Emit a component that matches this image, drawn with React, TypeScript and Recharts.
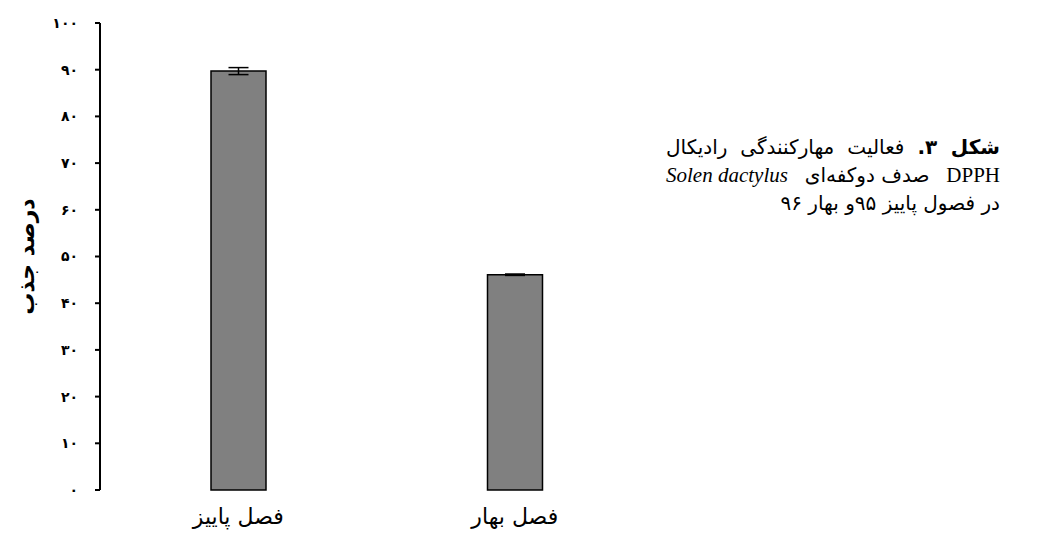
import { BarChart, Bar, XAxis, YAxis, ErrorBar, Label } from 'recharts'

const seasons = ['فصل پاییز', 'فصل بهار']
const absorption = [89.7, 46.1]
const errors = [0.75, 0.15]
const yTicks = [0, 10, 20, 30, 40, 50, 60, 70, 80, 90, 100]
const boundaryTicks = [0, 1, 2]

const data = seasons.map((season, i) => ({
  season,
  value: absorption[i],
  err: errors[i],
}))

const faDigits = (n: number) => String(n).replace(/\d/g, (d) => '۰۱۲۳۴۵۶۷۸۹'[+d])

const arabicFont = "'DejaVu Sans', sans-serif"
const serifFont = "'Liberation Serif', 'DejaVu Sans', serif"

export default function App() {
  return (
    <div style={{ position: 'relative', width: 1041, height: 545, margin: -8, background: '#fff' }}>
      <BarChart
        width={700}
        height={545}
        data={data}
        margin={{ top: 23, right: 47, bottom: 25, left: 40 }}
      >
        <XAxis
          xAxisId="edge"
          type="number"
          domain={[0, 2]}
          ticks={boundaryTicks}
          tick={false}
          height={0}
          tickSize={9}
          axisLine={{ stroke: '#000', strokeWidth: 2 }}
          tickLine={{ stroke: '#000', strokeWidth: 2 }}
        />
        <XAxis
          xAxisId="cat"
          dataKey="season"
          height={30}
          axisLine={false}
          tickLine={false}
          tickSize={0}
          tickMargin={18}
          tick={{ fill: '#000', fontSize: 22, fontFamily: arabicFont }}
        />
        <YAxis
          domain={[0, 100]}
          ticks={yTicks}
          width={60}
          tickSize={5}
          tickMargin={17}
          tickFormatter={faDigits}
          axisLine={{ stroke: '#000', strokeWidth: 2 }}
          tickLine={{ stroke: '#000', strokeWidth: 2 }}
          tick={{ fill: '#000', fontSize: 14, fontWeight: 'bold', fontFamily: arabicFont }}
        >
          <Label
            value="درصد جذب"
            angle={-90}
            position="center"
            dx={-44}
            style={{ fill: '#000', fontSize: 22, fontWeight: 'bold', fontFamily: arabicFont }}
          />
        </YAxis>
        <Bar
          xAxisId="cat"
          dataKey="value"
          fill="#808080"
          stroke="#000"
          strokeWidth={1.5}
          barSize={55}
          isAnimationActive={false}
        >
          <ErrorBar dataKey="err" width={10} stroke="#000" strokeWidth={1.5} isAnimationActive={false} />
        </Bar>
      </BarChart>
      <div
        style={{
          position: 'absolute',
          left: 666,
          top: 133,
          width: 334,
          fontSize: 20,
          lineHeight: '28px',
          fontFamily: arabicFont,
          color: '#000',
        }}
      >
        <div style={{ direction: 'rtl', textAlign: 'justify', textAlignLast: 'justify' }}>
          <b>شکل ۳.</b> فعالیت مهارکنندگی رادیکال
        </div>
        <div
          style={{
            direction: 'ltr',
            display: 'flex',
            justifyContent: 'space-between',
            alignItems: 'baseline',
            whiteSpace: 'nowrap',
          }}
        >
          <i style={{ fontFamily: serifFont, fontSize: 21 }}>Solen dactylus</i>
          <span>صدف دوکفه‌ای</span>
          <span style={{ fontFamily: serifFont, fontSize: 21 }}>DPPH</span>
        </div>
        <div style={{ direction: 'rtl', textAlign: 'right' }}>در فصول پاییز ۹۵و بهار ۹۶</div>
      </div>
    </div>
  )
}
